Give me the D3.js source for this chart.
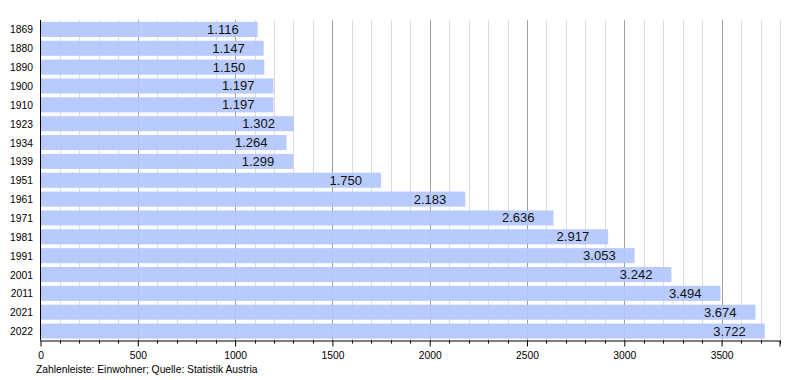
<!DOCTYPE html>
<html><head><meta charset="utf-8">
<script src="https://cdn.jsdelivr.net/npm/d3@7"></script>
<style>body{margin:0;background:#fff;} text{font-family:"Liberation Sans",Arial,sans-serif;}</style>
</head><body>
<svg id="c" width="800" height="380"></svg>
<script>
const years = ["1869","1880","1890","1900","1910","1923","1934","1939","1951","1961","1971","1981","1991","2001","2011","2021","2022"];
const population = [1116,1147,1150,1197,1197,1302,1264,1299,1750,2183,2636,2917,3053,3242,3494,3674,3722];
const majorTicks = [0,500,1000,1500,2000,2500,3000,3500];
const footnote = "Zahlenleiste: Einwohner; Quelle: Statistik Austria";

(function(){
const svg = d3.select("#c");
const mL = 40.5, mR = 780, mT = 20, mB = 340.5;
const x = d3.scaleLinear().domain([0,3800]).range([mL,mR]);
const y = d3.scaleBand().domain(years).range([mT,mB]).paddingInner(0.2).paddingOuter(0.1);
const minor = d3.range(100,3801,100).filter(v=>v%500!==0);

svg.append("g").selectAll("line").data(minor).join("line")
  .attr("x1",d=>Math.round(x(d))+0.5).attr("x2",d=>Math.round(x(d))+0.5)
  .attr("y1",mT).attr("y2",mB).attr("stroke","#dcdcdc").attr("stroke-width",1);
svg.append("g").selectAll("line").data(majorTicks.slice(1)).join("line")
  .attr("x1",d=>Math.round(x(d))+0.5).attr("x2",d=>Math.round(x(d))+0.5)
  .attr("y1",mT).attr("y2",mB).attr("stroke","#a0a0a0").attr("stroke-width",1);

svg.append("g").selectAll("rect").data(years).join("rect")
  .attr("x",x(0)).attr("y",d=>y(d)).attr("width",(d,i)=>x(population[i])-x(0))
  .attr("height",y.bandwidth()).attr("fill","#b3c7fc").attr("fill-opacity",0.93);

svg.append("g").selectAll("text").data(years).join("text")
  .attr("x",(d,i)=>x(population[i])-19).attr("y",d=>y(d)+y.bandwidth()/2+4.5)
  .attr("text-anchor","end").attr("font-size",13).attr("fill","#111")
  .text((d,i)=>d3.format(".3f")(population[i]/1000));

svg.append("g").selectAll("text").data(years).join("text")
  .attr("x",33).attr("y",d=>y(d)+y.bandwidth()/2+4)
  .attr("text-anchor","end").attr("font-size",10.3).attr("fill","#000").text(d=>d);

svg.append("line").attr("x1",mL).attr("x2",mL).attr("y1",mT).attr("y2",mB).attr("stroke","#000");
const xa = d3.axisBottom(x).tickValues(majorTicks).tickFormat(d3.format("d")).tickSize(6).tickSizeOuter(0);
const g = svg.append("g").attr("transform",`translate(0,${mB})`).call(xa);
g.select(".domain").attr("d",`M${mL},0.5H${mR}V6`);
g.selectAll("text").attr("font-size",10.3).attr("font-family","Liberation Sans, Arial, sans-serif").attr("dy","0.95em");
svg.append("g").selectAll("line").data(minor).join("line")
  .attr("x1",d=>Math.round(x(d))+0.5).attr("x2",d=>Math.round(x(d))+0.5)
  .attr("y1",mB).attr("y2",mB+3).attr("stroke","#000");

svg.append("text").attr("x",36).attr("y",373).attr("font-size",10.3).attr("fill","#000").text(footnote);
})();
</script>
</body></html>
